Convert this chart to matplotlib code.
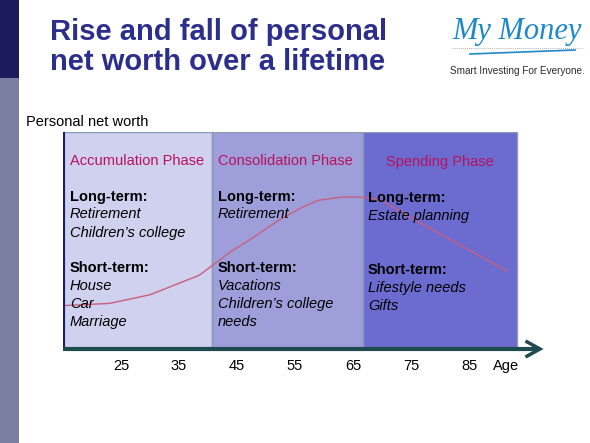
import matplotlib
matplotlib.use("Agg")
import matplotlib.pyplot as plt
from matplotlib.patches import Rectangle

plt.rcParams['font.family'] = ['Liberation Sans', 'DejaVu Sans']

# ---- data ----
ages = [15, 23, 30, 38.5, 44, 47, 52, 56, 59, 63, 66, 69.5, 78, 91.5]
net_worth = [20, 21, 25, 34, 45, 50, 59, 65, 68.5, 70, 70, 69, 56, 36]
tick_ages = [25, 35, 45, 55, 65, 75, 85]
tick_labels = ["25", "35", "45", "55", "65", "75", "85"]
phase_edges = [15, 40.7, 66.7, 93.3]
phase_names = ["Accumulation Phase", "Consolidation Phase", "Spending Phase"]
long_term = [["Retirement", "Children\u2019s college"], ["Retirement"], ["Estate planning"]]
short_term = [["House", "Car", "Marriage"], ["Vacations", "Children\u2019s college", "needs"],
              ["Lifestyle needs", "Gifts"]]
phase_colors = ["#d0d0ef", "#9e9edb", "#6b6bd0"]

W, H = 590, 443
fig = plt.figure(figsize=(W / 100, H / 100), dpi=100)
fig.patch.set_facecolor("white")

def fx(px):
    return px / W

def fy(py):
    return 1 - py / H

# left decorative bars
fig.add_artist(Rectangle((0, fy(78)), fx(19), 78 / H, transform=fig.transFigure,
                         facecolor="#1b1b5e", edgecolor="none"))
fig.add_artist(Rectangle((0, 0), fx(19), fy(78), transform=fig.transFigure,
                         facecolor="#7a7ea0", edgecolor="none"))

# title
fig.text(fx(50), fy(32), "Rise and fall of personal", fontsize=21, fontweight="bold",
         color="#2c2e8e", va="center", ha="left")
fig.text(fx(50), fy(62), "net worth over a lifetime", fontsize=21, fontweight="bold",
         color="#2c2e8e", va="center", ha="left")

# logo
fig.text(fx(517), fy(31), "My Money", fontsize=22, style="italic", family="Liberation Serif",
         color="#1e88c8", ha="center", va="center")
fig.add_artist(plt.Line2D([fx(452), fx(583)], [fy(48), fy(48)], transform=fig.transFigure,
                          color="#999999", lw=0.6, ls=(0, (1, 1.5))))
fig.add_artist(plt.Line2D([fx(470), fx(575)], [fy(54), fy(50)], transform=fig.transFigure,
                          color="#1e88c8", lw=1.2))
fig.text(fx(517), fy(71), "Smart Investing For Everyone.", fontsize=7.2, color="#2b2b2b",
         ha="center", va="center")

# y label
fig.text(fx(26), fy(122), "Personal net worth", fontsize=10.5, color="black", ha="left",
         va="center")

# chart axes: age 15 at x=63px, 5.8 px per year; y 0 at 349px, 100 at 132px
left_px, right_px = 63, 545
x0 = 15
x1 = x0 + (right_px - left_px) / 5.8
ax = fig.add_axes([fx(left_px), fy(349), fx(right_px - left_px), (349 - 132) / H])
ax.set_xlim(x0, x1)
ax.set_ylim(0, 100)
ax.patch.set_alpha(0)
for s in ax.spines.values():
    s.set_visible(False)

for i in range(3):
    ax.add_patch(Rectangle((phase_edges[i], 0), phase_edges[i + 1] - phase_edges[i], 100,
                           facecolor=phase_colors[i], edgecolor="#8d9ab4", lw=1, zorder=1))

# left navy border
ax.plot([phase_edges[0], phase_edges[0]], [0, 100], color="#1c1c6c", lw=3, zorder=4,
        solid_capstyle="butt")

# curve
ax.plot(ages, net_worth, color="#c8607e", lw=1, zorder=3)

# axis arrow
xe = x0 + (540 - left_px) / 5.8
xa = x0 + (527 - left_px) / 5.8
ax.plot([x0, xe - 0.3], [0, 0], color="#1f4a4e", lw=3, zorder=5, clip_on=False,
        solid_capstyle="butt")
ax.plot([xa, xe, xa], [3.3, 0, -3.3], color="#1f4a4e", lw=2.5, zorder=5, clip_on=False,
        solid_joinstyle="miter")

ax.set_xticks(tick_ages)
ax.set_xticklabels(tick_labels, fontsize=10.5)
ax.tick_params(axis="x", length=0, pad=7.5)
ax.set_yticks([])

def vy(py):
    return (349 - py) / 2.17

ax.text(x0 + (506 - left_px) / 5.8, vy(366), "Age", fontsize=10.5, ha="center", va="center",
        clip_on=False)

# phase text
text_x = [x0 + (70 - left_px) / 5.8, x0 + (218 - left_px) / 5.8, x0 + (368 - left_px) / 5.8]
fs = 10.5
for i in range(3):
    if i < 2:
        ax.text(text_x[i], vy(161), phase_names[i], fontsize=fs, color="#b8125c",
                ha="left", va="center", zorder=6)
    else:
        ax.text(x0 + (440 - left_px) / 5.8, vy(162), phase_names[i], fontsize=fs,
                color="#b8125c", ha="center", va="center", zorder=6)
    off = 3 if i == 2 else 1.5
    ax.text(text_x[i], vy(195 + off), "Long-term:", fontsize=fs, fontweight="bold",
            color="black", ha="left", va="center", zorder=6)
    for j, t in enumerate(long_term[i]):
        ax.text(text_x[i], vy(213 + off + 18 * j), t, fontsize=fs, style="italic",
                color="black", ha="left", va="center", zorder=6)
    ax.text(text_x[i], vy(267 + off), "Short-term:", fontsize=fs, fontweight="bold",
            color="black", ha="left", va="center", zorder=6)
    for j, t in enumerate(short_term[i]):
        ax.text(text_x[i], vy(285 + off + 17.8 * j), t, fontsize=fs, style="italic",
                color="black", ha="left", va="center", zorder=6)

fig.savefig("out.png", dpi=100)
